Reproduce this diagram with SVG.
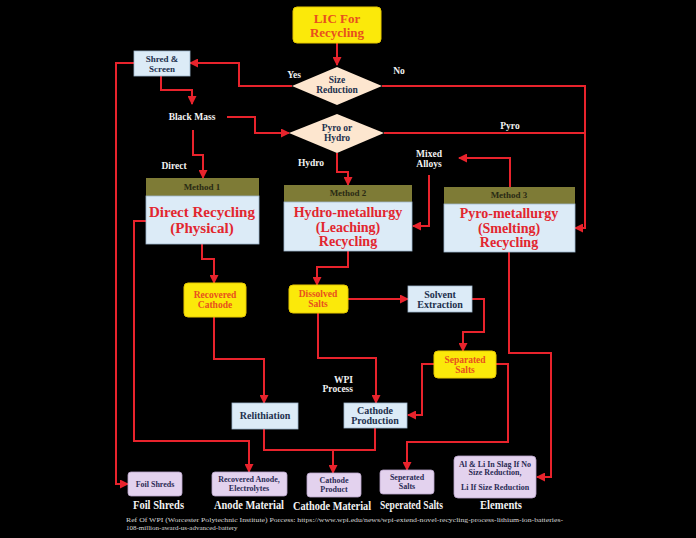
<svg xmlns="http://www.w3.org/2000/svg" width="696" height="538" viewBox="0 0 696 538">
<defs>
<marker id="ah" markerUnits="userSpaceOnUse" markerWidth="9" markerHeight="9" refX="8" refY="4.5" orient="auto">
<path d="M0,0 L9,4.5 L0,9 z" fill="#e8232c"/>
</marker>
<style>
text{font-family:"Liberation Serif","DejaVu Serif",serif;font-weight:bold;text-anchor:middle}
.c{fill:none;stroke:#e8232c;stroke-width:2;marker-end:url(#ah)}
.cn{fill:none;stroke:#e8232c;stroke-width:2}
.yel{fill:#fbe90a;stroke:#e6c800;stroke-width:1}
.blu{fill:#dcebf7;stroke:#9fb6cc;stroke-width:0.8}
.lil{fill:#e3d2ee;stroke:#b9a3c9;stroke-width:0.8}
.dia{fill:#fde6cf}
.hdr{fill:#7e7b36}
.ot{fill:#e8501e;font-size:9.5px}
.nt{fill:#22304d;font-size:10px}
.rt{fill:#e2262f;font-size:15px}
.wt{fill:#f2f2f2;font-size:9.5px}
.lt{fill:#2b2b55;font-size:8px}
.bt{fill:#f2f2f2;font-size:12px}
.mt{fill:#2a2a14;font-size:9px}
</style>
</defs>
<rect width="696" height="538" fill="#000"/>

<g id="connectors">
<path class="c" d="M337,43 V65"/>
<path class="c" d="M292,86 H239 V63 H190"/>
<path class="c" d="M382,86 H585 V228 H575"/>
<path class="c" d="M161,76 V90 H192 V104"/>
<path class="c" d="M227,117 H255 V133 H289"/>
<path class="cn" d="M384,133 H585"/>
<path class="c" d="M193,130 V155 H203 V178"/>
<path class="c" d="M337,153 V172 H348 V185"/>
<path class="c" d="M510,187 V158 H459"/>
<path class="c" d="M429,175 V226 H413"/>
<path class="c" d="M202,244 V259 H214 V283"/>
<path class="c" d="M348,251 V267 H317 V285"/>
<path class="c" d="M348,299 H408"/>
<path class="c" d="M472,299 H484 V332 H463 V351"/>
<path class="c" d="M318,313 V358 H376 V403"/>
<path class="c" d="M434,364 H422 V415 H408"/>
<path class="c" d="M496,364 H508 V442 H407 V470"/>
<path class="c" d="M509,252 V353 H551 V477 H537"/>
<path class="c" d="M214,317 V359 H264 V403"/>
<path class="cn" d="M264,429 V450 H375 V428"/>
<path class="c" d="M333,450 V473"/>
<path class="c" d="M146,221 H134 V441 H249 V472"/>
<path class="c" d="M134,63 H116 V484 H128"/>
</g>

<g id="lic">
<rect class="yel" x="293" y="7" width="88" height="36" rx="4"/>
<text x="337" y="23" style="fill:#e8501e;font-size:13px">LIC For</text>
<text x="337" y="37" style="fill:#e8501e;font-size:13px">Recycling</text>
</g>

<g id="size">
<polygon class="dia" points="337,67 382,86 337,105 292,86"/>
<text class="nt" x="337" y="83" style="font-size:9.5px">Size</text>
<text class="nt" x="337" y="93" style="font-size:9.5px">Reduction</text>
</g>
<text class="wt" x="294" y="78">Yes</text>
<text class="wt" x="399" y="74">No</text>

<g id="shred">
<rect class="blu" x="134" y="51" width="56" height="25"/>
<text class="nt" x="162" y="62" style="font-size:9px">Shred &amp;</text>
<text class="nt" x="162" y="72" style="font-size:9px">Screen</text>
</g>

<g id="blackmass">
<text class="wt" x="192" y="120">Black Mass</text>
</g>

<g id="pyrohydro">
<polygon class="dia" points="337,114 384,133 337,153 289,133"/>
<text class="nt" x="337" y="131" style="font-size:9.5px">Pyro or</text>
<text class="nt" x="337" y="141" style="font-size:9.5px">Hydro</text>
</g>
<text class="wt" x="510" y="129">Pyro</text>
<text class="wt" x="174" y="169">Direct</text>
<text class="wt" x="311" y="166">Hydro</text>
<text class="wt" x="429" y="157">Mixed</text>
<text class="wt" x="429" y="167">Alloys</text>

<g id="method1">
<rect class="hdr" x="146" y="178" width="113" height="18"/>
<rect class="blu" x="146" y="196" width="113" height="48"/>
<text class="mt" x="202" y="190">Method 1</text>
<text class="rt" x="202" y="217">Direct Recycling</text>
<text class="rt" x="202" y="233">(Physical)</text>
</g>

<g id="method2">
<rect class="hdr" x="284" y="185" width="128" height="17"/>
<rect class="blu" x="284" y="202" width="128" height="49"/>
<text class="mt" x="348" y="196">Method 2</text>
<text class="rt" x="348" y="217" style="font-size:14px">Hydro-metallurgy</text>
<text class="rt" x="348" y="232" style="font-size:14px">(Leaching)</text>
<text class="rt" x="348" y="246" style="font-size:14px">Recycling</text>
</g>

<g id="method3">
<rect class="hdr" x="444" y="187" width="131" height="17"/>
<rect class="blu" x="444" y="204" width="131" height="48"/>
<text class="mt" x="509" y="198">Method 3</text>
<text class="rt" x="509" y="218" style="font-size:14px">Pyro-metallurgy</text>
<text class="rt" x="509" y="233" style="font-size:14px">(Smelting)</text>
<text class="rt" x="509" y="247" style="font-size:14px">Recycling</text>
</g>

<g id="recoveredcathode">
<rect class="yel" x="184" y="283" width="62" height="34" rx="4"/>
<text class="ot" x="215" y="298">Recovered</text>
<text class="ot" x="215" y="308">Cathode</text>
</g>

<g id="dissolved">
<rect class="yel" x="289" y="285" width="59" height="28" rx="4"/>
<text class="ot" x="318" y="297">Dissolved</text>
<text class="ot" x="318" y="307">Salts</text>
</g>

<g id="solvent">
<rect class="blu" x="408" y="286" width="64" height="26"/>
<text class="nt" x="440" y="298">Solvent</text>
<text class="nt" x="440" y="308">Extraction</text>
</g>

<g id="separated">
<rect class="yel" x="434" y="351" width="62" height="27" rx="4"/>
<text class="ot" x="465" y="363">Separated</text>
<text class="ot" x="465" y="373">Salts</text>
</g>

<text class="wt" x="353" y="383" style="text-anchor:end">WPI</text>
<text class="wt" x="353" y="392" style="text-anchor:end">Process</text>

<g id="relithiation">
<rect class="blu" x="232" y="403" width="66" height="26"/>
<text class="nt" x="265" y="419">Relithiation</text>
</g>

<g id="cathodeproduction">
<rect class="blu" x="344" y="403" width="63" height="25"/>
<text class="nt" x="375" y="414">Cathode</text>
<text class="nt" x="375" y="424">Production</text>
</g>

<g id="foil">
<rect class="lil" x="128" y="472" width="54" height="24" rx="3"/>
<text class="lt" x="155" y="487">Foil Shreds</text>
</g>

<g id="anode">
<rect class="lil" x="212" y="472" width="75" height="24" rx="3"/>
<text class="lt" x="249" y="482">Recovered Anode,</text>
<text class="lt" x="249" y="491">Electrolytes</text>
</g>

<g id="cathodeproduct">
<rect class="lil" x="307" y="473" width="54" height="24" rx="3"/>
<text class="lt" x="334" y="483">Cathode</text>
<text class="lt" x="334" y="492">Product</text>
</g>

<g id="seperatedsalts">
<rect class="lil" x="380" y="470" width="54" height="24" rx="3"/>
<text class="lt" x="407" y="480">Seperated</text>
<text class="lt" x="407" y="489">Salts</text>
</g>

<g id="elements">
<rect class="lil" x="454" y="456" width="82" height="42" rx="4"/>
<text class="lt" x="495" y="467">Al &amp; Li In Slag If No</text>
<text class="lt" x="495" y="475">Size Reduction,</text>
<text class="lt" x="495" y="490">Li If Size Reduction</text>
</g>

<g id="bottomlabels">
<text class="bt" x="133" y="509" style="text-anchor:start" textLength="51" lengthAdjust="spacingAndGlyphs">Foil Shreds</text>
<text class="bt" x="214" y="509" style="text-anchor:start" textLength="70" lengthAdjust="spacingAndGlyphs">Anode Material</text>
<text class="bt" x="293" y="510" style="text-anchor:start" textLength="78" lengthAdjust="spacingAndGlyphs">Cathode Material</text>
<text class="bt" x="380" y="509" style="text-anchor:start" textLength="63" lengthAdjust="spacingAndGlyphs">Seperated Salts</text>
<text class="bt" x="480" y="509" style="text-anchor:start" textLength="42" lengthAdjust="spacingAndGlyphs">Elements</text>
</g>

<g id="reference">
<text x="126" y="522" style="text-anchor:start;font-weight:normal;font-size:7px;fill:#d8d8d8" textLength="437" lengthAdjust="spacingAndGlyphs">Ref Of WPI (Worcester Polytechnic Institute) Porcess: https://www.wpi.edu/news/wpi-extend-novel-recycling-process-lithium-ion-batteries-</text>
<text x="126" y="530" style="text-anchor:start;font-weight:normal;font-size:7px;fill:#d8d8d8">108-million-award-us-advanced-battery</text>
</g>
</svg>
